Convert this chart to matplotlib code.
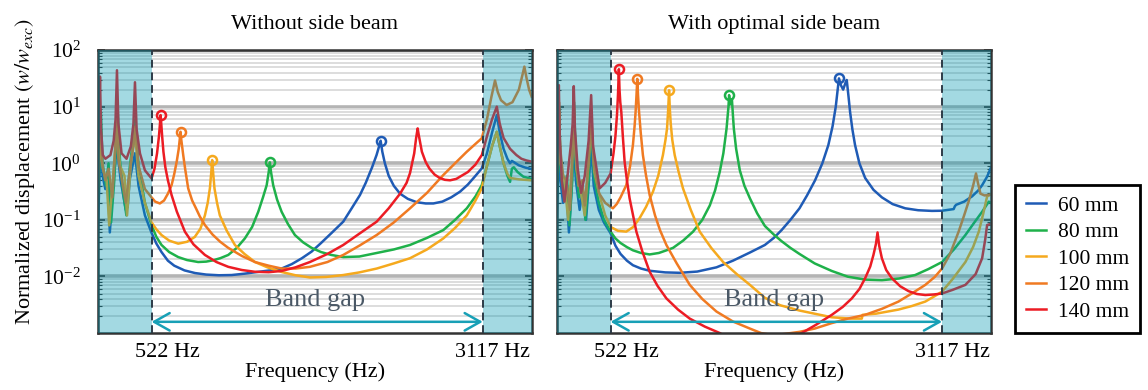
import matplotlib
matplotlib.use("Agg")
import matplotlib.pyplot as plt
from matplotlib.ticker import LogLocator, NullFormatter
import numpy as np

plt.rcParams['font.family'] = ['Liberation Serif', 'DejaVu Serif']
plt.rcParams['mathtext.fontset'] = 'stix'

# beam lengths and colours
labels = ["60 mm", "80 mm", "100 mm", "120 mm", "140 mm"]
colors = ["#1f5bb5", "#1fb14a", "#f5a91e", "#f07a22", "#ec1c24"]

f_lo, f_hi = 522, 3117  # band gap edges (Hz)

# ---------- without side beam ----------
fl_60 = [100, 112, 125, 138, 160, 178, 195, 220, 250, 280, 320, 335, 350, 392, 420, 470,
         522, 560, 600, 650, 700, 780, 862, 950, 1050, 1150, 1250, 1350, 1450, 1541, 1620, 1700,
         1776, 1850, 1930, 2024, 2090, 2155, 2200, 2250, 2285, 2305, 2317, 2330, 2350, 2380, 2420,
         2469, 2530, 2600, 2670, 2730, 2800, 2870, 2939, 3000, 3060, 3109,
         3150, 3190, 3227, 3250, 3280, 3310, 3331, 3345, 3360, 3400, 3450, 3500]
vl_60 = [0.05, 0.4, 3, 0.6, 0.35, 0.7, 0.06, 0.4, 2, 0.5, 0.15, 0.17, 0.5, 1.5, 0.4, 0.12,
         0.059, 0.038, 0.027, 0.019, 0.0155, 0.0128, 0.0115, 0.0108, 0.0105, 0.0106, 0.0112, 0.012,
         0.0128, 0.0138, 0.0165, 0.021, 0.0275, 0.039, 0.058, 0.093, 0.16, 0.275, 0.45, 0.85, 1.4,
         2.0, 2.5, 1.6, 1.0, 0.6, 0.4, 0.29, 0.235, 0.205, 0.195, 0.195, 0.21, 0.25, 0.315, 0.42,
         0.6, 0.81,
         1.5, 3.5, 7.1, 3.5, 1.8, 1.2, 1.0, 1.1, 1.05, 0.92, 0.84, 0.79]

fl_80 = [100, 115, 125, 138, 165, 185, 205, 230, 255, 275, 300, 325, 350, 395, 420, 470,
         522, 560, 600, 660, 731, 800, 887, 950, 1000, 1060, 1123, 1190, 1253, 1310, 1358, 1395,
         1424, 1440, 1449, 1458, 1475, 1505, 1541, 1590, 1645, 1710, 1776, 1850, 1930, 2024, 2150,
         2286, 2420, 2547, 2680, 2808, 2900, 2992, 3060, 3109,
         3150, 3190, 3227, 3250, 3280, 3310, 3331, 3345, 3360, 3390, 3435, 3500]
vl_80 = [0.15, 1.2, 8, 1.0, 0.4, 1.0, 0.09, 0.5, 10, 1.1, 0.3, 0.12, 0.8, 6, 0.9, 0.2,
         0.08, 0.05, 0.036, 0.027, 0.022, 0.0195, 0.018, 0.0183, 0.0192, 0.021, 0.024, 0.032, 0.047,
         0.075, 0.139, 0.25, 0.41, 0.7, 1.04, 0.7, 0.41, 0.23, 0.139, 0.085, 0.054, 0.04, 0.032,
         0.027, 0.024, 0.022, 0.0225, 0.026, 0.03, 0.036, 0.048, 0.066, 0.1, 0.16, 0.26, 0.41,
         0.9, 2.0, 3.6, 2.0, 1.0, 0.6, 0.47, 0.8, 0.85, 0.7, 0.58, 0.53]

fl_100 = [100, 118, 140, 170, 190, 225, 250, 275, 310, 330, 360, 392, 420, 470,
          522, 560, 600, 660, 731, 800, 861, 905, 940, 962, 979, 990, 997, 1004, 1015, 1035, 1057,
          1110, 1175, 1250, 1332, 1430, 1541, 1650, 1763, 1890, 2024, 2150, 2286, 2420, 2547, 2680,
          2808, 2900, 2992, 3060, 3109,
          3150, 3190, 3227, 3250, 3280, 3310, 3331, 3400, 3500]
vl_100 = [0.3, 2.5, 0.8, 0.5, 0.08, 0.8, 4, 0.9, 0.6, 0.12, 1.0, 3.5, 0.6, 0.2,
          0.09, 0.068, 0.054, 0.043, 0.038, 0.041, 0.05, 0.07, 0.12, 0.2, 0.36, 0.7, 1.14, 0.7, 0.36,
          0.2, 0.12, 0.065, 0.036, 0.025, 0.018, 0.0145, 0.012, 0.0105, 0.0096, 0.0098, 0.0106,
          0.0118, 0.0138, 0.017, 0.021, 0.03, 0.047, 0.072, 0.12, 0.22, 0.36,
          0.9, 2.0, 3.6, 2.0, 1.0, 0.65, 0.55, 0.52, 0.5]

fl_120 = [100, 112, 122, 135, 160, 185, 215, 235, 248, 262, 290, 320, 345, 380, 395, 420, 470,
          522, 550, 587, 620, 650, 679, 700, 720, 735, 744, 749, 755, 770, 785, 809, 840, 870, 900,
          940, 1000, 1060, 1123, 1230, 1332, 1440, 1541, 1650, 1763, 1900, 2024, 2150, 2286, 2420,
          2547, 2680, 2808, 2900, 2992, 3060, 3109,
          3150, 3185, 3213, 3235, 3260, 3304, 3350, 3400, 3430, 3443, 3460, 3480, 3500]
vl_120 = [0.6, 3, 5, 1.0, 0.5, 0.8, 0.25, 1.5, 6, 1.2, 0.5, 0.2, 0.6, 2, 4.5, 0.9, 0.35,
          0.25, 0.21, 0.195, 0.22, 0.29, 0.41, 0.65, 1.1, 1.8, 2.8, 3.6, 2.6, 1.4, 0.8, 0.36, 0.22,
          0.16, 0.115, 0.081, 0.055, 0.041, 0.032, 0.023, 0.018, 0.0155, 0.0138, 0.0138, 0.0148,
          0.018, 0.024, 0.035, 0.054, 0.09, 0.16, 0.3, 0.62, 1.0, 1.6, 2.2, 2.76,
          6, 15, 29, 18, 13, 10.7, 12, 20, 38, 51, 32, 20, 15]

fl_140 = [100, 110, 118, 126, 140, 160, 200, 225, 240, 251, 262, 287, 326, 360, 380, 392, 405, 431,
          470, 522, 545, 565, 580, 588, 593, 598, 605, 615, 630, 650, 679, 720, 783, 850, 940, 1030,
          1123, 1230, 1332, 1440, 1541, 1650, 1763, 1900, 2024, 2150, 2286, 2380, 2469, 2520, 2547,
          2580, 2595, 2607, 2615, 2640, 2670, 2700, 2740, 2780, 2820, 2861, 2910, 2950, 3000, 3060,
          3110, 3150, 3190, 3227, 3250, 3280, 3331, 3380, 3420, 3460, 3500]
vl_140 = [1.4, 4, 34, 4, 1.4, 1.2, 1.4, 2.5, 6, 44, 5, 1.5, 1.2, 2, 5, 27, 4, 1.5,
          0.75, 0.54, 0.8, 1.5, 3.0, 5, 7.1, 5, 3.0, 1.6, 0.85, 0.5, 0.274, 0.14, 0.062, 0.037,
          0.024, 0.018, 0.0148, 0.013, 0.0121, 0.0119, 0.0125, 0.0145, 0.018, 0.025, 0.036, 0.057,
          0.093, 0.16, 0.29, 0.45, 0.67, 1.5, 2.8, 4.13, 3.2, 1.6, 1.05, 0.8, 0.63, 0.55, 0.51, 0.5,
          0.53, 0.6, 0.7, 0.95, 1.4, 3.0, 6, 10, 5, 2.8, 1.8, 1.4, 1.2, 1.12, 1.07]

# ---------- with optimal side beam ----------
fr_60 = [100, 110, 117, 125, 150, 175, 196, 215, 234, 250, 280, 300, 330, 350, 370, 390, 430, 470,
         522, 560, 600, 650, 697, 760, 828, 950, 1063, 1200, 1351, 1480, 1613, 1730, 1800, 1861,
         1930, 2001, 2060, 2123, 2180, 2227, 2260, 2285, 2300, 2310, 2325, 2343, 2360, 2371, 2385,
         2397, 2415, 2436, 2470, 2515, 2580, 2646, 2730, 2829, 2930, 3038, 3117,
         3208, 3218, 3228, 3290, 3352, 3400, 3431, 3470, 3497]
vr_60 = [0.1, 0.5, 3, 0.6, 0.2, 0.4, 0.06, 0.3, 2.5, 0.5, 0.15, 0.3, 0.1, 0.4, 2, 0.4, 0.15, 0.09,
         0.058, 0.035, 0.025, 0.019, 0.0158, 0.0138, 0.0126, 0.0118, 0.0116, 0.0122, 0.0145, 0.019,
         0.0265, 0.036, 0.048, 0.066, 0.1, 0.16, 0.27, 0.5, 1.0, 2.1, 4.5, 10, 20, 31.6, 24, 20, 26,
         29.6, 15, 8.1, 4, 2.1, 1.0, 0.55, 0.34, 0.25, 0.19, 0.16, 0.148, 0.144, 0.145,
         0.155, 0.175, 0.185, 0.21, 0.26, 0.33, 0.41, 0.58, 0.81]

fr_80 = [100, 110, 119, 130, 155, 180, 200, 222, 236, 252, 275, 300, 325, 350, 370, 392, 430, 470,
         522, 560, 600, 650, 697, 760, 828, 900, 960, 1011, 1090, 1168, 1240, 1299, 1340, 1377, 1405,
         1430, 1445, 1450, 1458, 1466, 1472, 1480, 1487, 1505, 1534, 1570, 1613, 1670, 1730, 1800,
         1861, 1930, 2001, 2120, 2254, 2380, 2515, 2646, 2780, 2907, 3010, 3117,
         3210, 3300, 3370, 3431, 3483, 3500]
vr_80 = [0.2, 1.0, 10, 0.8, 0.3, 0.6, 0.08, 0.5, 12, 0.8, 0.25, 0.4, 0.1, 0.5, 6, 0.6, 0.2, 0.1,
         0.062, 0.047, 0.039, 0.033, 0.029, 0.026, 0.0245, 0.026, 0.029, 0.032, 0.043, 0.062, 0.1,
         0.18, 0.33, 0.71, 1.5, 4.1, 10, 16, 11, 11.5, 13.5, 7, 4.1, 1.8, 0.75, 0.4, 0.24, 0.13,
         0.078, 0.055, 0.042, 0.032, 0.025, 0.017, 0.0125, 0.0099, 0.0088, 0.0086, 0.0092, 0.0106,
         0.0135, 0.018,
         0.03, 0.054, 0.09, 0.139, 0.21, 0.2]

fr_100 = [100, 112, 120, 130, 160, 190, 215, 235, 255, 290, 320, 345, 372, 395, 440, 480,
          522, 580, 645, 700, 749, 800, 854, 895, 932, 952, 964, 972, 980, 986, 993, 1005, 1024,
          1055, 1089, 1150, 1220, 1310, 1403, 1510, 1613, 1730, 1850, 2001, 2254, 2400, 2489, 2495,
          2600, 2776, 2880, 2986, 3060, 3117,
          3200, 3300, 3360, 3405, 3440, 3470, 3500]
vr_100 = [0.4, 2, 8, 1, 0.5, 0.1, 0.7, 6, 0.8, 0.3, 0.12, 0.8, 5, 0.7, 0.25, 0.12,
          0.075, 0.064, 0.062, 0.075, 0.107, 0.17, 0.315, 0.6, 1.4, 2.6, 4.1, 8, 19.5, 9, 5, 2.6,
          1.4, 0.7, 0.36, 0.15, 0.062, 0.032, 0.018, 0.011, 0.0071, 0.0042, 0.0031, 0.0025, 0.0019,
          0.0018, 0.0018, 0.0021, 0.0022, 0.0026, 0.003, 0.0036, 0.0045, 0.0054,
          0.009, 0.018, 0.033, 0.062, 0.13, 0.26, 0.28]

fr_120 = [100, 112, 118, 126, 150, 175, 205, 222, 234, 248, 270, 300, 320, 350, 370, 390, 430, 480,
          522, 540, 570, 600, 645, 675, 697, 710, 718, 725, 731, 737, 745, 758, 775, 800, 828, 870,
          910, 959, 1040, 1142, 1240, 1351, 1480, 1613, 1700, 1780, 1861, 2001, 2120, 2254, 2380,
          2515, 2650, 2776, 2880, 2986, 3060, 3117,
          3180, 3247, 3290, 3325, 3360, 3383, 3398, 3418, 3450, 3500]
vr_120 = [0.8, 4, 12, 2, 0.6, 0.5, 0.15, 1, 10, 1.5, 0.4, 0.5, 0.18, 1, 8, 1, 0.3, 0.2,
          0.17, 0.16, 0.19, 0.25, 0.41, 0.9, 2.1, 4.5, 8.1, 16, 31, 16, 8.1, 3.5, 1.4, 0.6, 0.275,
          0.12, 0.065, 0.036, 0.017, 0.0071, 0.004, 0.0024, 0.0016, 0.0012, 0.001, 0.00093, 0.00095,
          0.00105, 0.0012, 0.0015, 0.0018, 0.0021, 0.0027, 0.0036, 0.005, 0.0071, 0.0098, 0.0138,
          0.025, 0.062, 0.12, 0.21, 0.4, 0.66, 0.45, 0.29, 0.27, 0.28]

fr_140 = [100, 110, 117, 124, 140, 161, 185, 210, 225, 234, 243, 265, 291, 320, 350, 370, 385, 436, 480,
          522, 545, 560, 572, 580, 587, 592, 598, 606, 618, 632, 650, 671, 695, 724, 770, 828, 890,
          959, 1050, 1142, 1260, 1377, 1550, 1700, 1850, 2018, 2130, 2254, 2340, 2411, 2470, 2515,
          2555, 2580, 2600, 2612, 2625, 2646, 2680, 2724, 2790, 2855, 2920, 2986, 3050, 3117,
          3200, 3300, 3380, 3431, 3455, 3470, 3500]
vr_140 = [0.7, 3, 24, 3, 0.5, 0.21, 0.6, 2, 5, 23, 4, 0.8, 0.3, 0.6, 2.5, 16, 2, 0.36, 0.45,
          0.66, 1.5, 3, 7, 16, 46, 20, 12, 8.1, 3, 1.06, 0.5, 0.24, 0.13, 0.062, 0.028, 0.0121,
          0.0068, 0.0041, 0.0026, 0.0018, 0.0013, 0.001, 0.0006, 0.0005, 0.0006, 0.001, 0.0014,
          0.0021, 0.0029, 0.0041, 0.006, 0.0093, 0.015, 0.024, 0.038, 0.06, 0.035, 0.021, 0.013,
          0.0093, 0.0067, 0.0055, 0.0049, 0.0047, 0.0048, 0.005,
          0.0058, 0.0071, 0.011, 0.021, 0.045, 0.081, 0.085]

panels = [
    ("Without side beam", [(fl_60, vl_60), (fl_80, vl_80), (fl_100, vl_100), (fl_120, vl_120), (fl_140, vl_140)]),
    ("With optimal side beam", [(fr_60, vr_60), (fr_80, vr_80), (fr_100, vr_100), (fr_120, vr_120), (fr_140, vr_140)]),
]

fig = plt.figure(figsize=(11.48, 3.90), dpi=100)
ax_l = fig.add_axes([0.0851, 0.146, 0.378, 0.7256])
ax_r = fig.add_axes([0.4849, 0.146, 0.3783, 0.7256], sharey=ax_l)

for ax, (title, series) in zip([ax_l, ax_r], panels):
    ax.set_yscale("log")
    ax.set_xlim(100, 3500)
    ax.set_ylim(1e-3, 1e2)
    ax.set_yticks([1e-2, 1e-1, 1e0, 1e1, 1e2])
    ax.yaxis.set_minor_locator(LogLocator(base=10, subs=np.arange(2, 10)))
    ax.yaxis.set_minor_formatter(NullFormatter())
    ax.tick_params(axis="y", which="both", direction="in", left=True, right=True, labelsize=15.5,
                   color="#333333", pad=12)
    ax.tick_params(axis="y", which="major", length=5, width=1.2)
    ax.tick_params(axis="y", which="minor", length=3, width=0.8)
    ax.set_xticks([])
    ax.grid(axis="y", which="major", color="#b4b4b4", lw=2.6, zorder=0)
    ax.grid(axis="y", which="minor", color="#dadada", lw=1.3, zorder=0)
    ax.set_axisbelow(True)
    for sp in ax.spines.values():
        sp.set_color("#333333")
        sp.set_linewidth(1.8)

    for (f, v), c, lab in zip(series, colors, labels):
        f = np.array(f)
        v = np.array(v)
        ax.plot(f, v, color=c, lw=1.8, label=lab, zorder=2, solid_joinstyle="round")
        inside = (f > f_lo) & (f < f_hi)
        k = np.argmax(np.where(inside, v, -1))
        ax.plot(f[k], v[k], "o", mfc="none", mec=c, ms=6.5, mew=1.8, zorder=2.5)

    # pass bands shaded over the curves
    ax.axvspan(100, f_lo, color="#0096af", alpha=0.36, lw=0, zorder=3)
    ax.axvspan(f_hi, 3500, color="#0096af", alpha=0.36, lw=0, zorder=3)
    for fx in (f_lo, f_hi):
        ax.axvline(fx, color="#2d3b47", ls=(0, (4, 2.5)), lw=1.4, zorder=4)

    ax.annotate("", xy=(f_hi, 0.00158), xytext=(f_lo, 0.00158),
                arrowprops=dict(arrowstyle="<->,head_length=0.8,head_width=0.45", color="#18a0b6",
                                lw=1.8, mutation_scale=14, shrinkA=0, shrinkB=0), zorder=5)
    ax.text(1800, 0.0038, "Band gap", ha="center", va="center", fontsize=19, color="#4a5866", zorder=5)

    ax.annotate("522 Hz", xy=(f_lo, 0), xycoords=("data", "axes fraction"),
                xytext=(11.5, -13.7), textcoords="offset points", ha="center", va="center", fontsize=16)
    ax.annotate("3117 Hz", xy=(f_hi, 0), xycoords=("data", "axes fraction"),
                xytext=(7.2, -13.7), textcoords="offset points", ha="center", va="center", fontsize=16)
    ax.text(0.5, -39 / 283, "Frequency (Hz)", transform=ax.transAxes, ha="center", va="center", fontsize=16)
    ax.text(0.5, 1 + 26 / 283, title, transform=ax.transAxes, ha="center", va="center", fontsize=16)

ax_r.tick_params(axis="y", labelleft=False)

fig.text(25 / 1148, 1 - 172 / 390, r"Normalized displacement $(w/w_{exc})$", rotation=90,
         ha="center", va="center", fontsize=16)

handles, labs = ax_l.get_legend_handles_labels()
leg = fig.legend(handles, labs, loc="upper left", bbox_to_anchor=(1015 / 1148, 1 - 185 / 390),
                 borderaxespad=0, fontsize=15.5, handlelength=0.93, handletextpad=0.55,
                 labelspacing=0.3, borderpad=0.5, fancybox=False, framealpha=1)
leg.get_frame().set_edgecolor("black")
leg.get_frame().set_linewidth(2)

fig.savefig("out.png", dpi=100)
